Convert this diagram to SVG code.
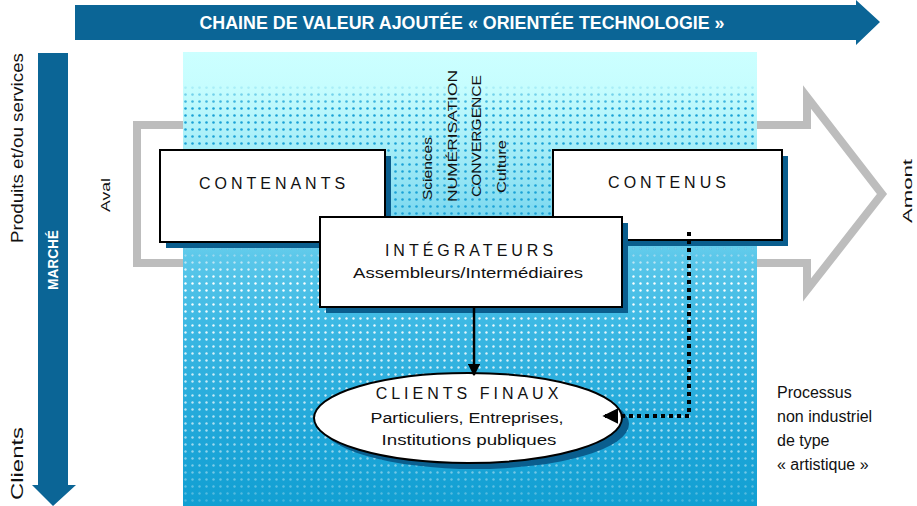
<svg xmlns="http://www.w3.org/2000/svg" width="917" height="506" viewBox="0 0 917 506">
<style>
text{font-family:"Liberation Sans","DejaVu Sans",Arial,sans-serif;fill:#111}
.box{fill:#fff;stroke:#000;stroke-width:2}
.shadow{fill:#0a5e8e}
.title{font-size:16px;letter-spacing:4px;text-anchor:middle}
.sub{font-size:14px;text-anchor:middle}
.lbl{font-size:16px}
.vt{font-size:13px}
.band{fill:#0b6596}
.wt{fill:#fff;font-weight:bold}
</style>
<defs>
<linearGradient id="bg" x1="0" y1="0" x2="0" y2="1">
<stop offset="0" stop-color="#ccffff"/>
<stop offset="0.08" stop-color="#c6fdfe"/>
<stop offset="0.3" stop-color="#8fe2f3"/>
<stop offset="0.45" stop-color="#5cc8ea"/>
<stop offset="0.6" stop-color="#3cb8e3"/>
<stop offset="0.85" stop-color="#1ea6d8"/>
<stop offset="1" stop-color="#119fd2"/>
</linearGradient>
<pattern id="bdot" width="7" height="7" patternUnits="userSpaceOnUse">
<circle cx="3.5" cy="3.5" r="1.3" fill="#1ba2d6"/>
</pattern>
<pattern id="wdot" width="7" height="7" patternUnits="userSpaceOnUse">
<circle cx="3.5" cy="3.5" r="1.2" fill="#ffffff"/>
</pattern>
<linearGradient id="mb" x1="0" y1="0" x2="0" y2="1">
<stop offset="0" stop-color="#000"/>
<stop offset="0.07" stop-color="#000"/>
<stop offset="0.12" stop-color="#fff"/>
<stop offset="0.4" stop-color="#fff"/>
<stop offset="0.5" stop-color="#000"/>
</linearGradient>
<linearGradient id="mw" x1="0" y1="0" x2="0" y2="1">
<stop offset="0.4" stop-color="#000"/>
<stop offset="0.5" stop-color="#fff"/>
<stop offset="0.85" stop-color="#999"/>
<stop offset="1" stop-color="#333"/>
</linearGradient>
<mask id="maskb" maskUnits="userSpaceOnUse" x="183" y="52" width="574" height="454">
<rect x="183" y="52" width="574" height="454" fill="url(#mb)"/>
</mask>
<mask id="maskw" maskUnits="userSpaceOnUse" x="183" y="52" width="574" height="454">
<rect x="183" y="52" width="574" height="454" fill="url(#mw)"/>
</mask>
<marker id="ah" viewBox="0 0 10 10" refX="9" refY="5" markerWidth="5" markerHeight="5" orient="auto" markerUnits="strokeWidth">
<path d="M0,0 L10,5 L0,10 Z" fill="#000"/>
</marker>
<marker id="ah2" viewBox="0 0 10 10" refX="9" refY="5" markerWidth="4" markerHeight="4" orient="auto" markerUnits="strokeWidth">
<path d="M0,0 L10,5 L0,10 Z" fill="#000"/>
</marker>
</defs>

<rect width="917" height="506" fill="#fff"/>

<!-- top band arrow -->
<g id="chaine">
<path class="band" d="M75,5 H856 V0 L880,22 L856,45 V40 H75 Z"/>
<text class="wt" x="462" y="29" font-size="18" text-anchor="middle" textLength="525" lengthAdjust="spacingAndGlyphs">CHAINE DE VALEUR AJOUTÉE « ORIENTÉE TECHNOLOGIE »</text>
</g>

<!-- left band arrow -->
<g id="marche">
<path class="band" d="M38,53 H68 V485 H76 L53,506 L32,485 H38 Z"/>
<text class="wt" transform="translate(58,290) rotate(-90)" font-size="14" textLength="60" lengthAdjust="spacingAndGlyphs">MARCHÉ</text>
</g>

<g id="labels-left">
<text class="lbl" transform="translate(23,243) rotate(-90)" textLength="190" lengthAdjust="spacingAndGlyphs">Produits et/ou services</text>
<text class="lbl" transform="translate(23,500) rotate(-90)" textLength="73" lengthAdjust="spacingAndGlyphs">Clients</text>
<text class="vt" transform="translate(110,212) rotate(-90)" textLength="34" lengthAdjust="spacingAndGlyphs">Aval</text>
<text class="vt" transform="translate(912,223) rotate(-90)" textLength="64" lengthAdjust="spacingAndGlyphs">Amont</text>
</g>

<!-- grey outline arrow (behind background) -->
<g id="fleche-grise">
<path d="M137,125 H807 V97 L882,194 L807,290 V263 H137 Z" fill="none" stroke="#bdbdbd" stroke-width="8" stroke-linejoin="miter"/>
</g>

<!-- background -->
<g id="fond">
<rect x="183" y="52" width="574" height="454" fill="url(#bg)"/>
<rect x="183" y="52" width="574" height="454" fill="url(#bdot)" mask="url(#maskb)"/>
<rect x="183" y="52" width="574" height="454" fill="url(#wdot)" mask="url(#maskw)"/>
</g>

<g id="sciences">
<text class="vt" transform="translate(432,200) rotate(-90)" textLength="63" lengthAdjust="spacingAndGlyphs">Sciences</text>
<text class="vt" transform="translate(457,202) rotate(-90)" textLength="132" lengthAdjust="spacingAndGlyphs">NUMÉRISATION</text>
<text class="vt" transform="translate(481,197) rotate(-90)" textLength="122" lengthAdjust="spacingAndGlyphs">CONVERGENCE</text>
<text class="vt" transform="translate(506,193) rotate(-90)" textLength="53" lengthAdjust="spacingAndGlyphs">Culture</text>
</g>

<g id="contenants">
<rect class="shadow" x="166" y="156" width="225" height="92"/>
<rect class="box" x="160" y="150" width="225" height="92"/>
<text class="title" x="274" y="189">CONTENANTS</text>
</g>

<g id="contenus">
<rect class="shadow" x="559" y="156" width="229" height="90"/>
<rect class="box" x="553" y="150" width="229" height="90"/>
<text class="title" x="669" y="188">CONTENUS</text>
</g>

<g id="integrateurs">
<rect class="shadow" x="326" y="223" width="302" height="90"/>
<rect class="box" x="320" y="217" width="302" height="90"/>
<text class="title" x="471" y="256" font-size="17" letter-spacing="4.5">INTÉGRATEURS</text>
<text class="sub" x="468" y="278" textLength="230" lengthAdjust="spacingAndGlyphs">Assembleurs/Intermédiaires</text>
</g>

<g id="clients-finaux">
<ellipse class="shadow" cx="475" cy="424" rx="154" ry="45"/>
<ellipse cx="468" cy="418" rx="154" ry="45" fill="#fff" stroke="#000" stroke-width="2"/>
<text class="title" x="469" y="399" font-size="17" letter-spacing="6.5">CLIENTS FINAUX</text>
<text class="sub" x="467" y="423" textLength="193" lengthAdjust="spacingAndGlyphs">Particuliers, Entreprises,</text>
<text class="sub" x="469" y="445" textLength="175" lengthAdjust="spacingAndGlyphs">Institutions publiques</text>
</g>

<g id="connecteurs">
<path d="M474,307 V375" fill="none" stroke="#000" stroke-width="2.5" marker-end="url(#ah)"/>
<path d="M689,232 V416 H604" fill="none" stroke="#000" stroke-width="4" stroke-dasharray="4 4" marker-end="url(#ah2)"/>
</g>

<g id="processus">
<text class="lbl" font-size="15" x="777" y="398">Processus</text>
<text class="lbl" font-size="15" x="777" y="422">non industriel</text>
<text class="lbl" font-size="15" x="777" y="446">de type</text>
<text class="lbl" font-size="15" x="777" y="470">« artistique »</text>
</g>
</svg>
